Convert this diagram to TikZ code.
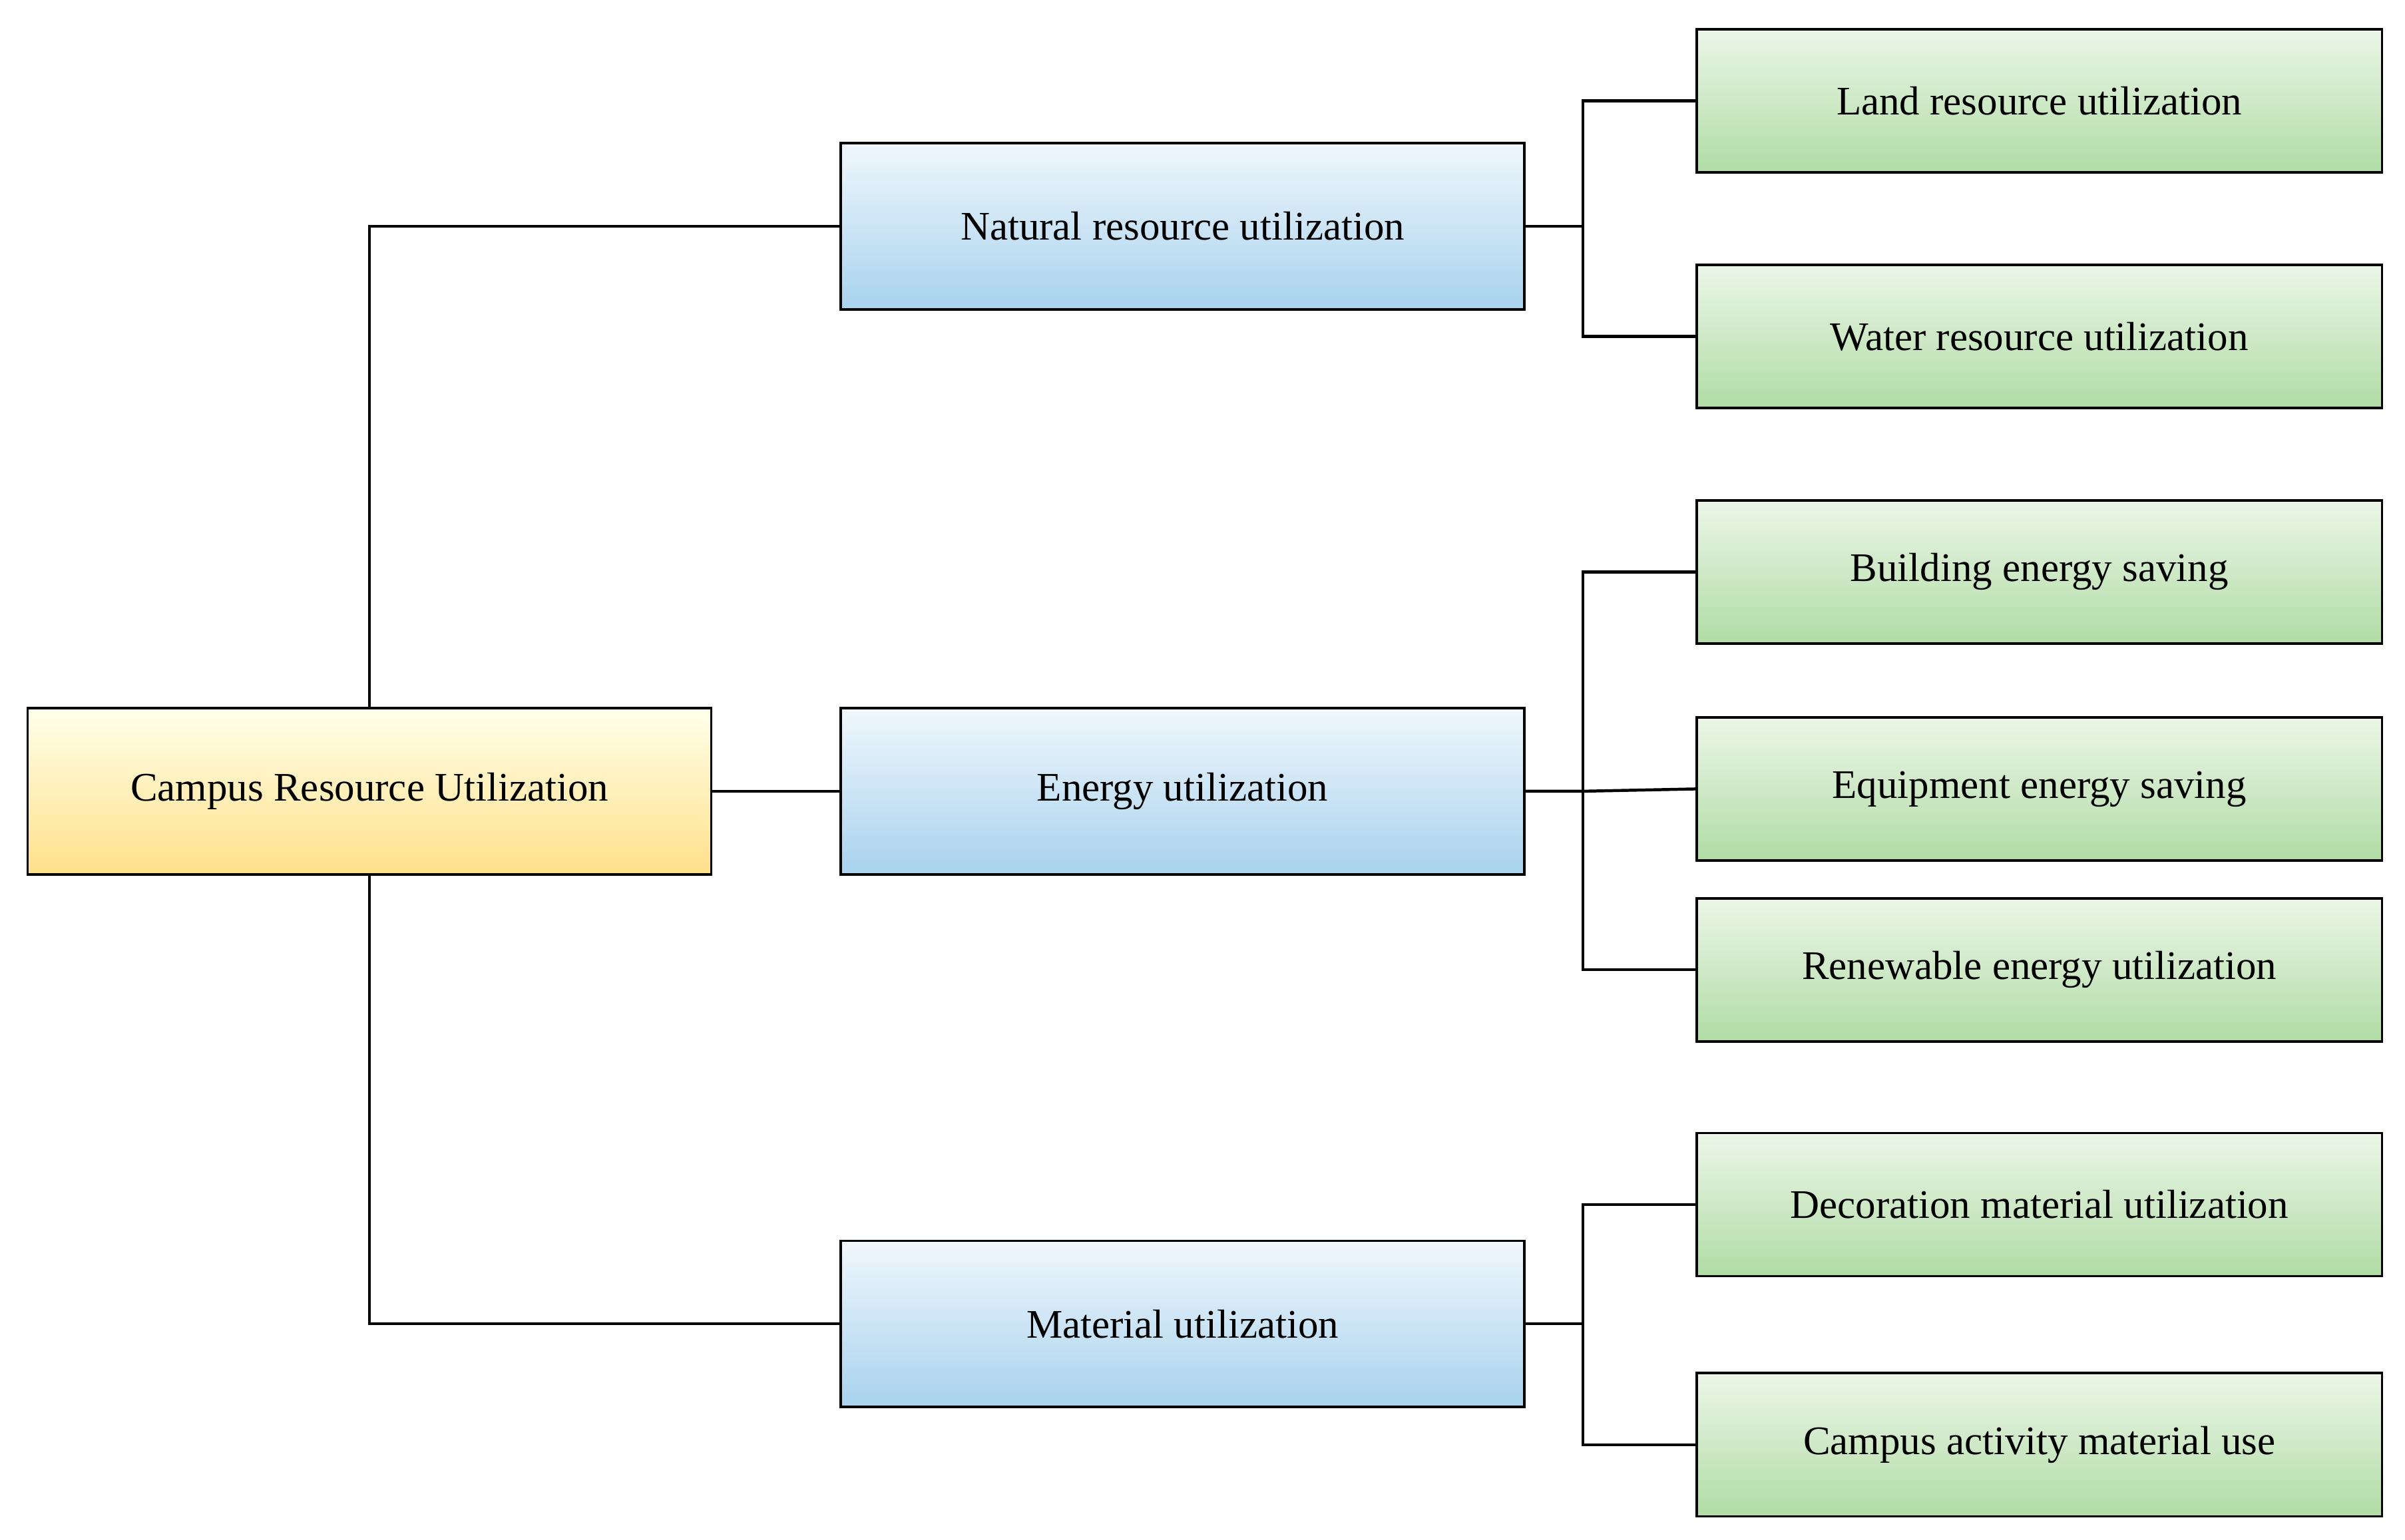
\documentclass[tikz,border=0pt]{standalone}
\usepackage{fontspec}
\setmainfont{Liberation Serif}
\begin{document}
\begin{tikzpicture}[x=0.02cm,y=-0.02cm,
 box/.style={draw,line width=0.9pt,minimum height=108*0.02cm,minimum width=444*0.02cm,inner sep=0pt,font=\fontsize{15}{18}\selectfont},
 root/.style={box,top color=yellow!8!white,bottom color={rgb,255:red,255;green,224;blue,138}},
 mid/.style={box,top color={rgb,255:red,240;green,247;blue,252},bottom color={rgb,255:red,168;green,210;blue,238}},
 leaf/.style={box,minimum height=93*0.02cm,minimum width=445*0.02cm,top color={rgb,255:red,236;green,246;blue,232},bottom color={rgb,255:red,176;green,220;blue,165}},
 ln/.style={line width=1.1pt}]
\useasboundingbox[fill=white] (0,0) rectangle (1562,1000);
\node[root] (r) at (240,514) {Campus Resource Utilization};
\node[mid] (n) at (768,147) {Natural resource utilization};
\node[mid] (e) at (768,514) {Energy utilization};
\node[mid] (m) at (768,860) {Material utilization};
\node[leaf] (l1) at (1324.5,65.5) {Land resource utilization};
\node[leaf] (l2) at (1324.5,218.5) {Water resource utilization};
\node[leaf] (l3) at (1324.5,371.5) {Building energy saving};
\node[leaf] (l4) at (1324.5,512.5) {Equipment energy saving};
\node[leaf] (l5) at (1324.5,630) {Renewable energy utilization};
\node[leaf] (l6) at (1324.5,782.5) {Decoration material utilization};
\node[leaf] (l7) at (1324.5,938.5) {Campus activity material use};
\draw[ln] (r.north) |- (n.west);
\draw[ln] (r.east) -- (e.west);
\draw[ln] (r.south) |- (m.west);
\coordinate (bn) at (1028,147);
\coordinate (be) at (1028,514);
\coordinate (bm) at (1028,860);
\draw[ln] (n.east) -- (bn);
\draw[ln] (bn) |- (l1.west);
\draw[ln] (bn) |- (l2.west);
\draw[ln] (e.east) -- (be) -- (l4.west);
\draw[ln] (be) |- (l3.west);
\draw[ln] (be) |- (l5.west);
\draw[ln] (m.east) -- (bm);
\draw[ln] (bm) |- (l6.west);
\draw[ln] (bm) |- (l7.west);
\end{tikzpicture}
\end{document}
